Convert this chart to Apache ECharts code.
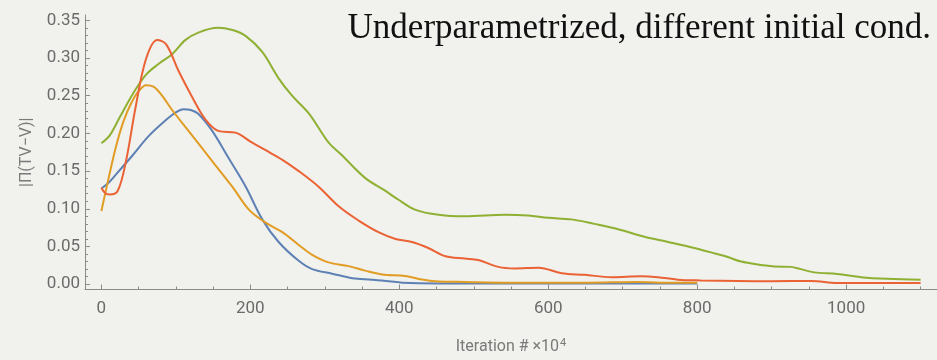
<!DOCTYPE html>
<html>
<head>
<meta charset="utf-8">
<script src="https://cdn.jsdelivr.net/npm/echarts@6/dist/echarts.min.js"></script>
<style>
html,body{margin:0;padding:0;background:#f1f1ed;}
#chart{width:937px;height:360px;}
</style>
</head>
<body>
<div id="chart"></div>
<script>
const titleText = "Underparametrized, different initial cond.";
const yName = "|\u03A0(TV\u2212V)|";
const xTicksMajor = [0, 200, 400, 600, 800, 1000];
const xTicksMinor = [50,100,150,250,300,350,450,500,550,650,700,750,850,900,950,1050,1100];
const yTicksMajor = [0, 0.05, 0.10, 0.15, 0.20, 0.25, 0.30, 0.35];
const yTicksMinor = [0.01,0.02,0.03,0.04,0.06,0.07,0.08,0.09,0.11,0.12,0.13,0.14,0.16,0.17,0.18,0.19,0.21,0.22,0.23,0.24,0.26,0.27,0.28,0.29,0.31,0.32,0.33,0.34];

const blueData = [[0,0.127],[10,0.135],[20,0.146],[42,0.171],[64,0.197],[87,0.218],[100,0.228],[110,0.232],[120,0.231],[130,0.226],[149,0.203],[171,0.167],[194,0.129],[216,0.086],[238,0.056],[265,0.031],[283,0.020],[310,0.014],[337,0.008],[363,0.006],[386,0.004],[404,0.002],[450,0.001],[550,0.001],[650,0.001],[750,0.001],[800,0.001]];
const orangeData = [[0,0.097],[10,0.142],[20,0.184],[30,0.217],[40,0.240],[50,0.256],[60,0.264],[70,0.262],[80,0.252],[95,0.231],[122,0.197],[149,0.163],[176,0.129],[198,0.099],[220,0.082],[243,0.069],[265,0.052],[283,0.039],[305,0.029],[332,0.024],[354,0.018],[377,0.013],[408,0.011],[426,0.007],[448,0.004],[488,0.003],[550,0.002],[650,0.002],[720,0.003],[750,0.002],[800,0.002]];
const greenData = [[0,0.187],[11,0.197],[25,0.222],[42,0.252],[60,0.278],[78,0.293],[95,0.305],[113,0.324],[131,0.334],[156,0.340],[176,0.337],[194,0.329],[216,0.308],[238,0.273],[256,0.250],[279,0.226],[305,0.188],[323,0.171],[354,0.141],[381,0.124],[399,0.112],[421,0.099],[453,0.092],[488,0.090],[542,0.092],[573,0.091],[600,0.088],[631,0.086],[662,0.080],[694,0.073],[729,0.063],[761,0.056],[796,0.048],[823,0.041],[841,0.036],[859,0.030],[886,0.0256],[904,0.0234],[926,0.023],[939,0.020],[957,0.0157],[988,0.0136],[1020,0.0094],[1055,0.0072],[1100,0.006]];
const redData = [[0,0.128],[5,0.121],[11,0.119],[22,0.124],[33,0.163],[46,0.235],[60,0.299],[75,0.324],[87,0.318],[104,0.282],[122,0.248],[140,0.218],[158,0.203],[180,0.201],[202,0.188],[220,0.178],[243,0.165],[265,0.150],[292,0.129],[319,0.103],[346,0.084],[372,0.069],[395,0.060],[417,0.056],[439,0.048],[462,0.037],[488,0.034],[506,0.032],[533,0.023],[555,0.021],[587,0.022],[618,0.0145],[649,0.0124],[685,0.0094],[725,0.0106],[747,0.0094],[774,0.006],[805,0.005],[854,0.0043],[899,0.004],[953,0.0043],[988,0.0017],[1100,0.0015]];

const seriesColors = ['#5E81B5', '#E19C24', '#8FB032', '#EB6235'];
const seriesData = [blueData, orangeData, greenData, redData];

const axisGray = '#8a8a8a';
const labelGray = '#6b6b6b';
const X_MIN = -22, X_MAX = 1122, Y_MIN = -0.007, Y_MAX = 0.357;

const chart = echarts.init(document.getElementById('chart'), null, {renderer: 'canvas'});
chart.setOption({
  backgroundColor: '#f1f1ed',
  animation: false,
  title: {
    text: titleText,
    right: 1, top: 6,
    textStyle: {fontFamily: 'Liberation Serif', fontSize: 35, fontWeight: 'normal', color: '#111'}
  },
  grid: {left: 85, right: -3, top: 15, bottom: 60},
  xAxis: [{
    type: 'value', min: X_MIN, max: X_MAX,
    name: '{a|Iteration # \u00D710}{s|4}',
    nameLocation: 'middle', nameGap: 48,
    nameTextStyle: {
      rich: {
        a: {fontFamily: 'Roboto', fontSize: 16, color: '#7a7a7a'},
        s: {fontFamily: 'Roboto', fontSize: 11, color: '#7a7a7a', padding: [0,0,8,1]}
      }
    },
    axisLine: {show: true, onZero: false, lineStyle: {color: axisGray, width: 1}},
    axisTick: {show: true, inside: true, length: 5, customValues: xTicksMajor, lineStyle: {color: axisGray}},
    axisLabel: {show: true, customValues: xTicksMajor, margin: 11, color: labelGray, fontFamily: 'Roboto', fontSize: 17,
      formatter: v => String(v)},
    splitLine: {show: false}
  }, {
    type: 'value', min: X_MIN, max: X_MAX, position: 'bottom',
    axisLine: {show: false, onZero: false},
    axisTick: {show: true, inside: true, length: 3, customValues: xTicksMinor, lineStyle: {color: axisGray}},
    axisLabel: {show: false},
    splitLine: {show: false}
  }],
  yAxis: [{
    type: 'value', min: Y_MIN, max: Y_MAX,
    name: yName, nameLocation: 'middle', nameGap: 50, nameRotate: 90,
    nameTextStyle: {fontFamily: 'Roboto', fontSize: 16, color: '#7a7a7a'},
    axisLine: {show: true, onZero: false, lineStyle: {color: axisGray, width: 1}},
    axisTick: {show: true, inside: true, length: 5, customValues: yTicksMajor, lineStyle: {color: axisGray}},
    axisLabel: {show: true, customValues: yTicksMajor, margin: 5, color: labelGray, fontFamily: 'Roboto', fontSize: 17,
      formatter: v => v.toFixed(2)},
    splitLine: {show: false}
  }, {
    type: 'value', min: Y_MIN, max: Y_MAX, position: 'left',
    axisLine: {show: false, onZero: false},
    axisTick: {show: true, inside: true, length: 3, customValues: yTicksMinor, lineStyle: {color: axisGray}},
    axisLabel: {show: false},
    splitLine: {show: false}
  }],
  series: seriesData.map((d, i) => ({
    type: 'line', data: d, xAxisIndex: 0, yAxisIndex: 0,
    smooth: 0.35, showSymbol: false, symbol: 'none',
    lineStyle: {color: seriesColors[i], width: 2},
    itemStyle: {color: seriesColors[i]},
    z: 2
  }))
});
</script>
</body>
</html>
